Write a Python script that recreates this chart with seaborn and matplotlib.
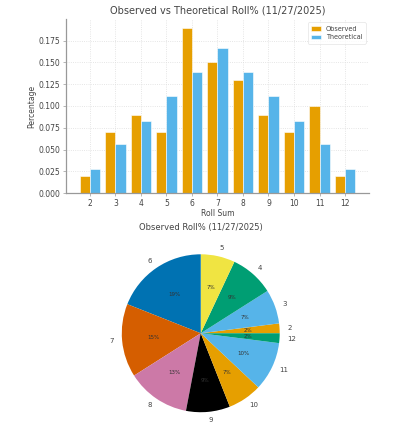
import matplotlib
matplotlib.use("Agg")
import matplotlib.pyplot as plt
import seaborn as sns
import pandas as pd

roll_sums = [2, 3, 4, 5, 6, 7, 8, 9, 10, 11, 12]
observed = [0.02, 0.07, 0.09, 0.07, 0.19, 0.15, 0.13, 0.09, 0.07, 0.10, 0.02]
theoretical = [0.028, 0.056, 0.083, 0.111, 0.139, 0.167, 0.139, 0.111, 0.083, 0.056, 0.028]
pie_colors = ["#E69F00", "#56B4E9", "#009E73", "#F0E442", "#0072B2",
              "#D55E00", "#CC79A7", "#000000", "#E69F00", "#56B4E9", "#009E73"]

df = pd.DataFrame({
    "Roll Sum": roll_sums * 2,
    "Percentage": observed + theoretical,
    "Type": ["Observed"] * len(roll_sums) + ["Theoretical"] * len(roll_sums),
})

txt = "#444444"
plt.rcParams["font.family"] = ["DejaVu Sans"]
plt.rcParams["text.color"] = txt
plt.rcParams["axes.labelcolor"] = txt
plt.rcParams["xtick.color"] = txt
plt.rcParams["ytick.color"] = txt

fig = plt.figure(figsize=(3.94, 4.37), dpi=100)

# bar chart
ax = fig.add_axes([0.1675, 0.558, 0.769, 0.398])
sns.barplot(data=df, x="Roll Sum", y="Percentage", hue="Type",
            palette={"Observed": "#E69F00", "Theoretical": "#56B4E9"},
            saturation=1, edgecolor="white", linewidth=0.4, ax=ax)
ax.set_xlim(-0.94, 10.94)
ax.set_ylim(0, 0.1995)
ax.set_yticks([0, 0.025, 0.05, 0.075, 0.1, 0.125, 0.15, 0.175])
ax.set_yticklabels(["0.000", "0.025", "0.050", "0.075", "0.100", "0.125", "0.150", "0.175"])
ax.set_title("Observed vs Theoretical Roll% (11/27/2025)", fontsize=7, pad=4)
ax.set_xlabel("Roll Sum", fontsize=5.5, labelpad=1)
ax.set_ylabel("Percentage", fontsize=5.5, labelpad=2)
ax.tick_params(labelsize=5.5, length=2, width=0.5, pad=2, color="#999999")
ax.grid(True, linestyle=":", color="#dddddd", linewidth=0.6)
ax.set_axisbelow(True)
for s in ["top", "right"]:
    ax.spines[s].set_visible(False)
for s in ["left", "bottom"]:
    ax.spines[s].set_color("#999999")
    ax.spines[s].set_linewidth(0.9)
leg = ax.legend(fontsize=4.7, loc="upper right", frameon=True, handlelength=1.5,
                borderpad=0.5, labelspacing=0.4)
leg.get_frame().set_edgecolor("#dddddd")
leg.get_frame().set_linewidth(0.5)

# pie chart
ax2 = fig.add_axes([0.259, 0.0114, 0.501, 0.452])
wedges, texts, autotexts = ax2.pie(observed, labels=[str(r) for r in roll_sums],
                                   colors=pie_colors, autopct="%1.0f%%",
                                   textprops={"fontsize": 5})
for t in autotexts:
    t.set_fontsize(4)
    t.set_color("#333333")
ax2.set_title("Observed Roll% (11/27/2025)", fontsize=6, pad=3)

fig.savefig("out.png", dpi=100)
